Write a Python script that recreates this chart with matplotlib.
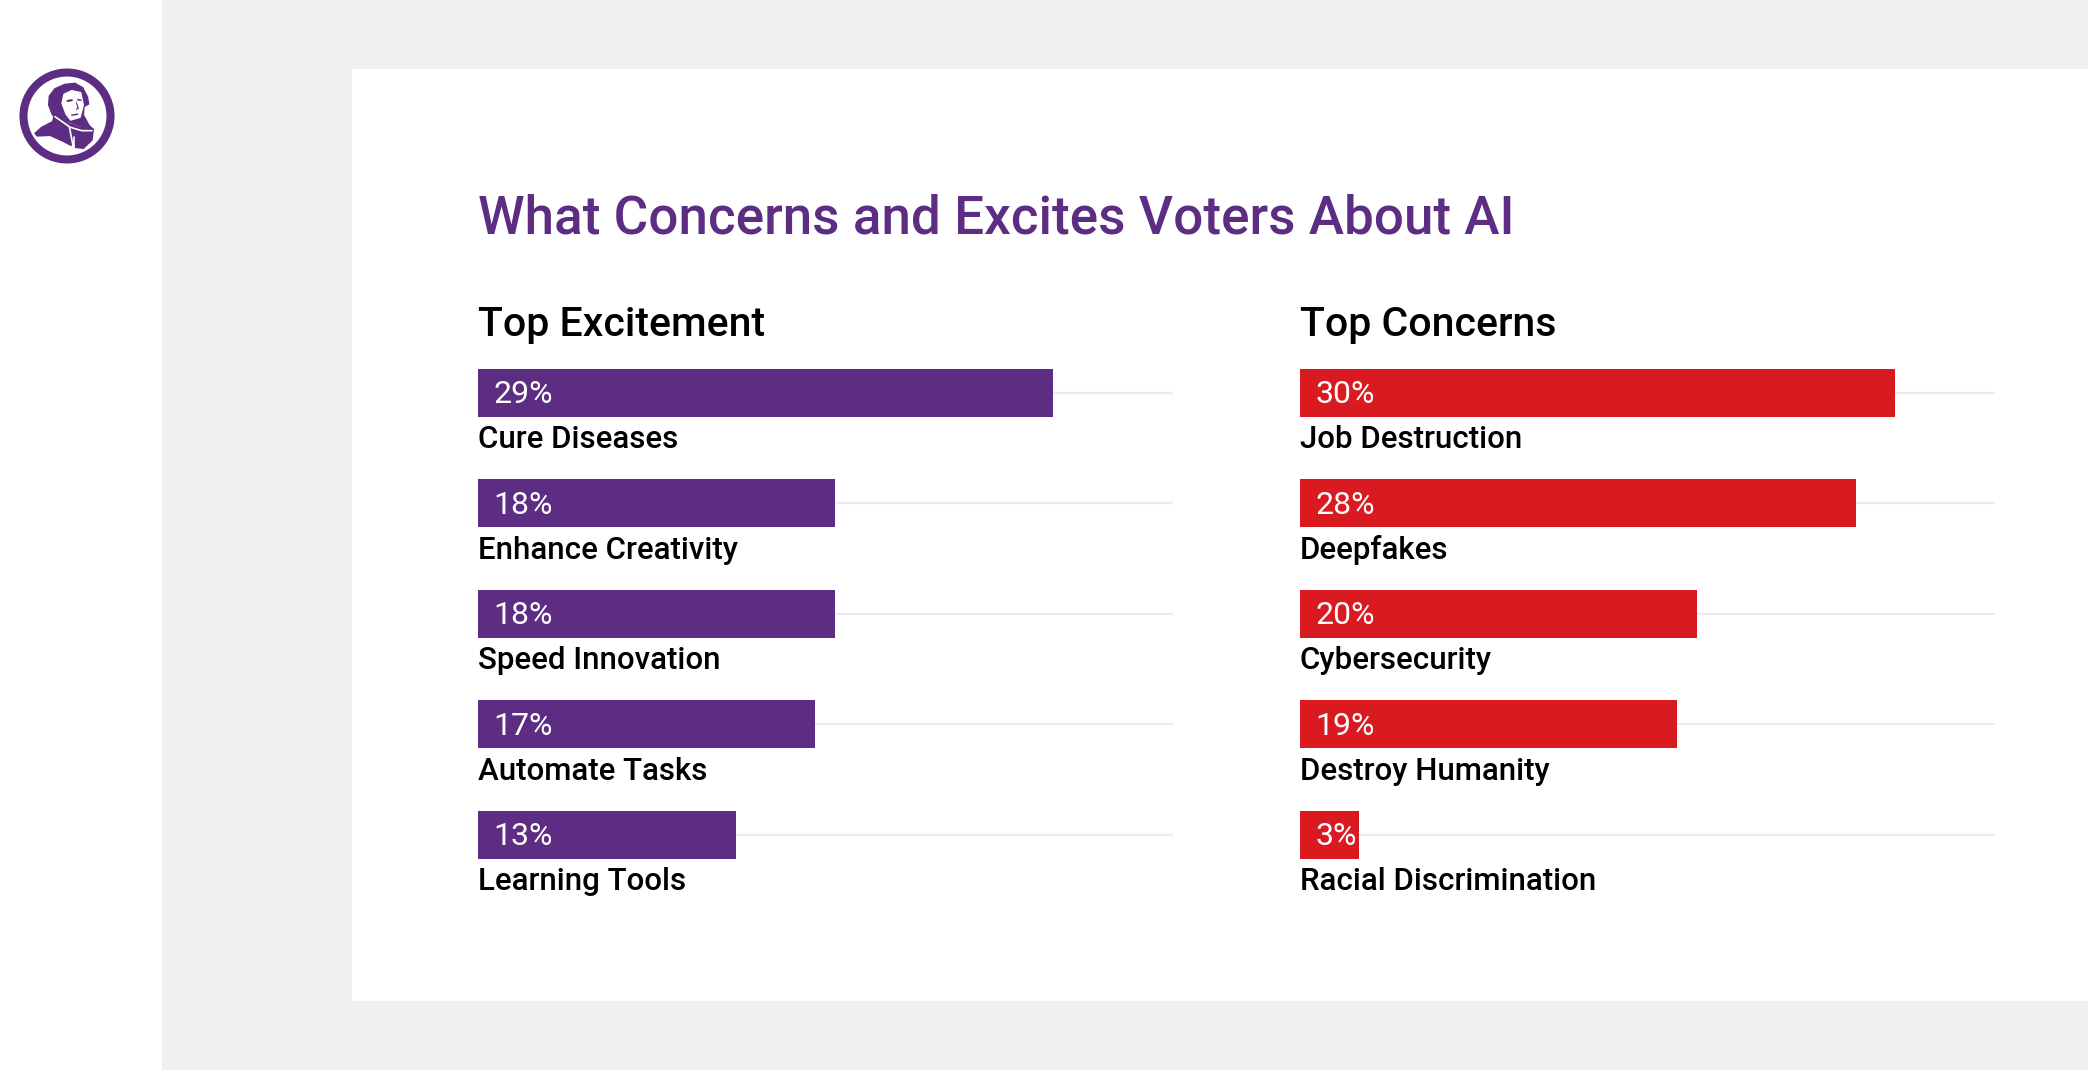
import matplotlib
matplotlib.use('Agg')
import matplotlib.pyplot as plt
from matplotlib.patches import Circle, Polygon, Rectangle

plt.rcParams['font.family'] = ['Roboto', 'DejaVu Sans']

PURPLE = '#5c2d82'
RED = '#da1a21'
GREY = '#f0f0f0'
RULE = '#ececec'

title = 'What Concerns and Excites Voters About AI'

excite_title = 'Top Excitement'
excite_labels = ['Cure Diseases', 'Enhance Creativity', 'Speed Innovation', 'Automate Tasks', 'Learning Tools']
excite_values = [29, 18, 18, 17, 13]

concern_title = 'Top Concerns'
concern_labels = ['Job Destruction', 'Deepfakes', 'Cybersecurity', 'Destroy Humanity', 'Racial Discrimination']
concern_values = [30, 28, 20, 19, 3]

W, H = 2088, 1070


def px_axes(fig, x0, y0, x1, y1):
    """axes from pixel box, y measured from the top"""
    return fig.add_axes([x0 / W, 1 - y1 / H, (x1 - x0) / W, (y1 - y0) / H])


def zoom_pts(points):
    return [(x / 3, y / 3 + 40) for x, y in points]


def draw_logo(bg):
    bg.add_patch(Circle((67, 116), 43.5, fc='white', ec=PURPLE, lw=5.8))
    hair = [(195, 133), (225, 130), (248, 143), (262, 170), (266, 192), (252, 200), (250, 225),
            (268, 258), (240, 258), (205, 245), (170, 238), (156, 222), (146, 195), (148, 168),
            (165, 146)]
    body = [(105, 280), (125, 262), (158, 245), (162, 226), (205, 250), (240, 262), (265, 255),
            (280, 268), (276, 300), (250, 325), (226, 322), (222, 300), (213, 316), (190, 304),
            (150, 286), (112, 288)]
    face = [(192, 163), (215, 152), (242, 158), (250, 195), (240, 232), (212, 240), (198, 222),
            (186, 190)]
    brow = [(200, 181), (216, 178), (218, 182), (202, 186)]
    brow2 = [(232, 177), (244, 179), (244, 182), (233, 181)]
    nose = [(229, 184), (236, 206), (228, 209), (232, 204)]
    mouth = [(214, 224), (234, 221), (234, 224), (215, 227)]
    bg.add_patch(Polygon(zoom_pts(hair), fc=PURPLE, ec=PURPLE, lw=1, joinstyle='round'))
    bg.add_patch(Polygon(zoom_pts(body), fc=PURPLE, ec=PURPLE, lw=1, joinstyle='round'))
    bg.add_patch(Polygon(zoom_pts(face), fc='white', ec='white', lw=1, joinstyle='round'))
    for part in [brow, brow2, nose, mouth]:
        bg.add_patch(Polygon(zoom_pts(part), fc=PURPLE, ec=PURPLE, lw=0.3))
    for line in [[(165, 230), (208, 260), (218, 312)], [(212, 262), (245, 272), (276, 272)],
                 [(222, 290), (222, 322)]]:
        xs, ys = zip(*zoom_pts(line))
        bg.plot(xs, ys, color='white', lw=1.2, solid_capstyle='round')


def draw_panel(ax, labels, values, color):
    rows = list(range(len(values)))
    ax.hlines(rows, 0, 35, color=RULE, lw=1.6, zorder=1)
    ax.barh(rows, values, height=0.434, color=color, zorder=2)
    for i, (name, val) in enumerate(zip(labels, values)):
        ax.annotate(f'{val}%', xy=(0, i), xytext=(11.5, -7.5), textcoords='offset points',
                    color='white', fontsize=23, ha='left', va='baseline', zorder=3)
        ax.annotate(name, xy=(0, i), xytext=(0, -40), textcoords='offset points',
                    color='black', fontsize=22.5, fontweight='medium', ha='left', va='baseline')
    ax.set_xlim(0, 35)
    ax.set_ylim(4.5, -0.5)
    ax.axis('off')


fig = plt.figure(figsize=(W / 100, H / 100), dpi=100, facecolor='white')

bg = fig.add_axes([0, 0, 1, 1])
bg.set_xlim(0, W)
bg.set_ylim(H, 0)
bg.axis('off')
bg.add_patch(Rectangle((162, 0), W - 162, H, fc=GREY, ec='none'))
bg.add_patch(Rectangle((351.5, 69), W - 351.5, 931.5, fc='white', ec='none'))
draw_logo(bg)

bg.text(477.5, 234, title, color=PURPLE, fontsize=38.2, fontweight='medium', ha='left', va='baseline')
bg.text(477.5, 336, excite_title, color='black', fontsize=29.5, fontweight='medium', ha='left', va='baseline')
bg.text(1299.5, 336, concern_title, color='black', fontsize=29.5, fontweight='medium', ha='left', va='baseline')

ax_left = px_axes(fig, 477.5, 337.5, 1172.5, 890.2)
draw_panel(ax_left, excite_labels, excite_values, PURPLE)

ax_right = px_axes(fig, 1299.5, 337.5, 1994.5, 890.2)
draw_panel(ax_right, concern_labels, concern_values, RED)

fig.savefig('out.png', dpi=100)
